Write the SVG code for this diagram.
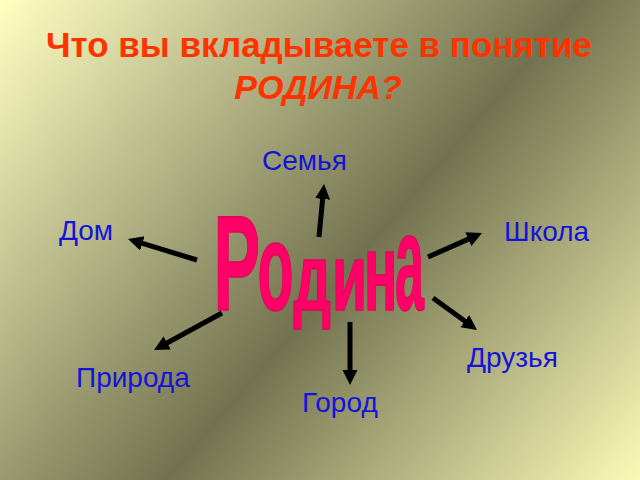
<svg xmlns="http://www.w3.org/2000/svg" width="640" height="480" viewBox="0 0 640 480">
<defs>
<linearGradient id="bg" gradientUnits="userSpaceOnUse" x1="0" y1="0" x2="604" y2="524">
<stop offset="0" stop-color="#ffffc2"/>
<stop offset="0.55" stop-color="#727250"/>
<stop offset="1" stop-color="#fbfbb8"/>
</linearGradient>
<marker id="ah" markerUnits="userSpaceOnUse" markerWidth="16" markerHeight="16" refX="5" refY="7.5" orient="auto">
<path d="M0,0 L15,7.5 L0,15 Z" fill="#000"/>
</marker>
<style>
.title{font-family:"Liberation Sans",Arial,sans-serif;font-weight:bold;fill:#ff3300;text-anchor:middle}
.lbl{font-family:"Liberation Sans",Arial,sans-serif;font-size:28px;fill:#1414d8}
.big{font-family:"Liberation Sans",Arial,sans-serif;font-weight:bold;font-size:100px;fill:#ff0066;stroke:#e0005a;stroke-width:1.2;stroke-linejoin:round;vector-effect:non-scaling-stroke}
.arr{stroke:#000;stroke-width:5;fill:none;marker-end:url(#ah)}
</style>
</defs>
<rect width="640" height="480" fill="url(#bg)"/>
<g id="title">
<text class="title" x="319" y="57" font-size="35">Что вы вкладываете в понятие</text>
<text class="title" x="318" y="99" font-size="34" font-style="italic">РОДИНА?</text>
</g>
<g id="connectors">
<line class="arr" x1="319" y1="237" x2="323.1" y2="194"/>
<line class="arr" x1="197" y1="260" x2="137.6" y2="241.9"/>
<line class="arr" x1="428" y1="257" x2="472.9" y2="237.1"/>
<line class="arr" x1="433" y1="298" x2="468.9" y2="324.1"/>
<line class="arr" x1="350" y1="322" x2="350" y2="375"/>
<line class="arr" x1="222" y1="313" x2="162.8" y2="345.2"/>
</g>
<g id="center">
<text class="big" transform="translate(213.5,310) scale(0.7,1.35)">Р</text>
<text class="big" transform="translate(257.5,310) scale(0.59,1.25)">о</text>
<text class="big" transform="translate(293.5,310) scale(0.59,0.95)">д</text>
<text class="big" transform="translate(332,310) scale(0.57,0.95)">и</text>
<text class="big" transform="translate(364,310) scale(0.55,1.1)">н</text>
<text class="big" transform="translate(395,310) scale(0.52,1.38)">а</text>
</g>
<g id="n-semya"><text class="lbl" x="262" y="170">Семья</text></g>
<g id="n-dom"><text class="lbl" x="59" y="240">Дом</text></g>
<g id="n-shkola"><text class="lbl" x="504" y="241">Школа</text></g>
<g id="n-druzya"><text class="lbl" x="467" y="367">Друзья</text></g>
<g id="n-priroda"><text class="lbl" x="76" y="387">Природа</text></g>
<g id="n-gorod"><text class="lbl" x="302" y="412">Город</text></g>
</svg>
